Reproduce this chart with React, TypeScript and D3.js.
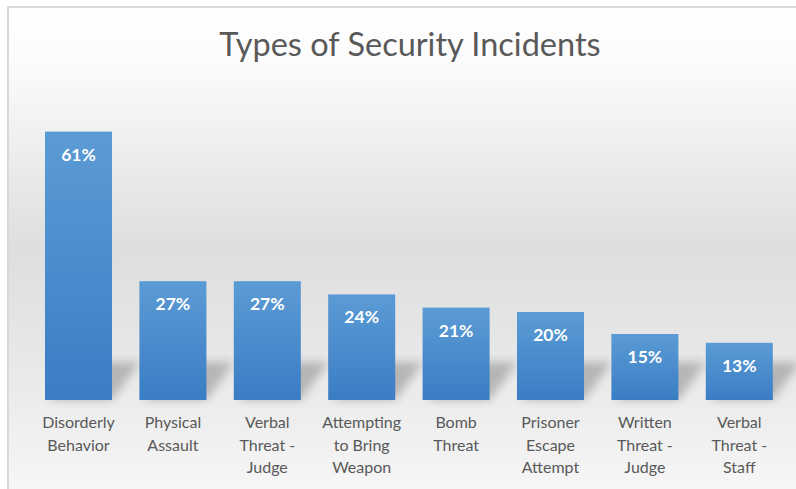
import React from "react";
import * as d3 from "d3";

const categories: string[][] = [
  ["Disorderly", "Behavior"],
  ["Physical", "Assault"],
  ["Verbal", "Threat -", "Judge"],
  ["Attempting", "to Bring", "Weapon"],
  ["Bomb", "Threat"],
  ["Prisoner", "Escape", "Attempt"],
  ["Written", "Threat -", "Judge"],
  ["Verbal", "Threat -", "Staff"],
];
const values: number[] = [61, 27, 27, 24, 21, 20, 15, 13];
const title = "Types of Security Incidents";

const W = 796;
const H = 489;
const FONT = "Lato, 'Open Sans', sans-serif";

export default function App() {
  const keys = categories.map((c) => c.join(" "));
  const x = d3
    .scaleBand<string>()
    .domain(keys)
    .range([31.3, 786.5])
    .paddingInner(0.29)
    .paddingOuter(0.145);
  const y = d3.scaleLinear().domain([0, 70]).range([400, 92]);
  const bw = x.bandwidth();

  return (
    <div style={{ position: "absolute", left: 0, top: 0 }}>
      <svg width={W} height={H} style={{ display: "block" }}>
        <defs>
          <linearGradient id="bg" x1="0" y1="0" x2="0" y2="1">
            <stop offset="0" stopColor="#ffffff" />
            <stop offset="0.12" stopColor="#fbfbfb" />
            <stop offset="0.5" stopColor="#dedede" />
            <stop offset="0.8" stopColor="#ebebeb" />
            <stop offset="1" stopColor="#f6f6f6" />
          </linearGradient>
          <linearGradient id="bar" x1="0" y1="0" x2="0" y2="1">
            <stop offset="0" stopColor="#5b9bd5" />
            <stop offset="1" stopColor="#3a7dc4" />
          </linearGradient>
          <filter id="blur" x="-50%" y="-50%" width="200%" height="200%">
            <feGaussianBlur stdDeviation="5" />
          </filter>
        </defs>
        <rect x={0} y={0} width={W} height={H} fill="#ffffff" />
        <rect x={9} y={8} width={W - 9} height={H - 8} fill="url(#bg)" />
        <rect x={8} y={7} width={W} height={H} fill="none" stroke="#d9d9d9" strokeWidth={2} />
        <text
          x={410}
          y={56}
          textAnchor="middle"
          fontFamily={FONT}
          fontSize={32.5}
          fill="#595959"
        >
          {title}
        </text>
        <g>
          {keys.map((k, i) => {
            const x0 = x(k)!;
            const b = y(0);
            const pts = [
              [x0 + 4, b],
              [x0 + bw, b],
              [x0 + bw + 28, b - 38],
              [x0 + 32, b - 38],
            ];
            return (
              <polygon
                key={"s" + i}
                points={pts.map((p) => p.join(",")).join(" ")}
                fill="#000"
                opacity={0.22}
                filter="url(#blur)"
              />
            );
          })}
        </g>
        <g>
          {keys.map((k, i) => (
            <rect
              key={"b" + i}
              x={x(k)}
              y={y(values[i])}
              width={bw}
              height={y(0) - y(values[i])}
              fill="url(#bar)"
            />
          ))}
        </g>
        <g>
          {keys.map((k, i) => (
            <text
              key={"v" + i}
              x={x(k)! + bw / 2}
              y={y(values[i]) + 29}
              textAnchor="middle"
              fontFamily={FONT}
              fontWeight="bold"
              fontSize={17.5}
              fill="#ffffff"
            >
              {values[i] + "%"}
            </text>
          ))}
        </g>
        <g>
          {categories.map((lines, i) => (
            <text
              key={"c" + i}
              textAnchor="middle"
              fontFamily={FONT}
              fontSize={16}
              fill="#595959"
            >
              {lines.map((ln, j) => (
                <tspan key={j} x={x(keys[i])! + bw / 2} y={428 + j * 22.5}>
                  {ln}
                </tspan>
              ))}
            </text>
          ))}
        </g>
      </svg>
    </div>
  );
}
